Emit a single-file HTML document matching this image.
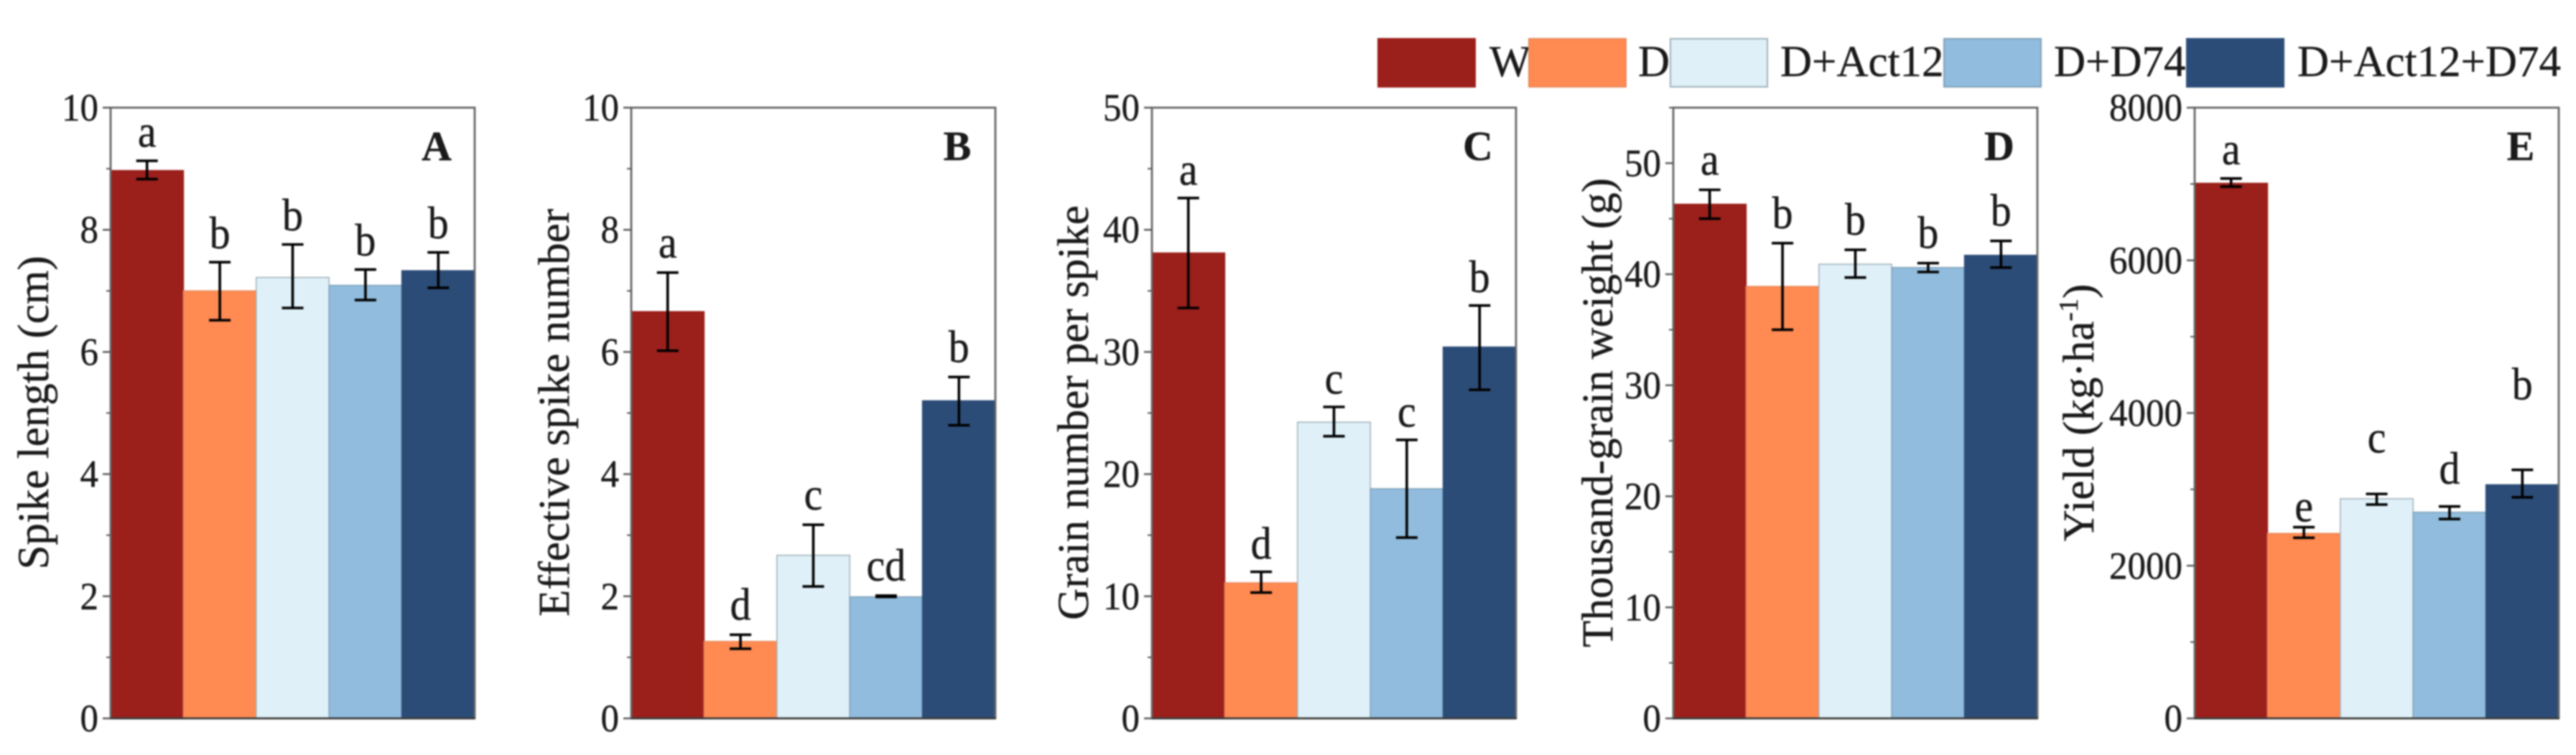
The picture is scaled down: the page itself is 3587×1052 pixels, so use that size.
<!DOCTYPE html>
<html lang="en">
<head>
<meta charset="utf-8">
<title>Wheat yield components by treatment</title>
<style>
  html, body { margin: 0; padding: 0; background: #fff; }
  body { width: 3587px; height: 1052px; overflow: hidden; }
  svg { display: block; filter: blur(1px); }
  text { font-family: "Liberation Serif", "Times New Roman", serif; fill: #1a1a1a; stroke: #1a1a1a; stroke-width: 0.4px; }
</style>
</head>
<body>
<svg id="figure" xmlns="http://www.w3.org/2000/svg" width="3587" height="1052" viewBox="0 0 3587 1052">
  <rect x="0" y="0" width="3587" height="1052" fill="#ffffff"/>
  <g id="panels"></g>
  <g id="legend"></g>
</svg>
<script>
// ---- Data ----
const categories = ["W", "D", "D+Act12", "D+D74", "D+Act12+D74"];

const spikeLengthValues = [8.97, 7.0, 7.22, 7.09, 7.33];
const spikeLengthHigh = [9.13, 7.47, 7.76, 7.35, 7.63];
const spikeLengthLow = [8.83, 6.52, 6.72, 6.85, 7.05];
const spikeLengthLetters = ["a", "b", "b", "b", "b"];
const spikeLengthTicks = [0, 2, 4, 6, 8, 10];
const spikeLengthMinor = [1, 3, 5, 7, 9];

const effectiveSpikeValues = [6.66, 1.26, 2.67, 1.99, 5.2];
const effectiveSpikeHigh = [7.3, 1.37, 3.17, 2.01, 5.59];
const effectiveSpikeLow = [6.02, 1.14, 2.16, 1.99, 4.8];
const effectiveSpikeLetters = ["a", "d", "c", "cd", "b"];
const effectiveSpikeTicks = [0, 2, 4, 6, 8, 10];
const effectiveSpikeMinor = [1, 3, 5, 7, 9];

const grainNumberValues = [38.1, 11.1, 24.25, 18.8, 30.4];
const grainNumberHigh = [42.6, 12.0, 25.5, 22.8, 33.8];
const grainNumberLow = [33.6, 10.3, 23.1, 14.8, 26.9];
const grainNumberLetters = ["a", "d", "c", "c", "b"];
const grainNumberTicks = [0, 10, 20, 30, 40, 50];
const grainNumberMinor = [5, 15, 25, 35, 45];

const grainWeightValues = [46.3, 38.9, 40.9, 40.6, 41.7];
const grainWeightHigh = [47.6, 42.8, 42.2, 41.0, 43.0];
const grainWeightLow = [45.0, 35.0, 39.7, 40.2, 40.6];
const grainWeightLetters = ["a", "b", "b", "b", "b"];
const grainWeightTicks = [0, 10, 20, 30, 40, 50];
const grainWeightMinor = [5, 15, 25, 35, 45, 55];

const yieldValues = [7009, 2423, 2877, 2700, 3060];
const yieldHigh = [7072, 2505, 2940, 2776, 3256];
const yieldLow = [6965, 2366, 2801, 2612, 2896];
const yieldLetters = ["a", "e", "c", "d", "b"];
const yieldLetterLift = [0, -107, 360, 114, 738];
const yieldTicks = [0, 2000, 4000, 6000, 8000];
const yieldMinor = [1000, 3000, 5000, 7000];

// ---- Layout and drawing ----
const NS = "http://www.w3.org/2000/svg";
const PLOT_TOP = 150;
const PLOT_BOTTOM = 1001;
const PLOT_WIDTH = 507;
const fills = ["#9b1f1b", "#ff8a52", "#dff0f8", "#91bcdd", "#2c4c78"];
const edges = ["#9b1f1b", "#e88a5c", "#9fb0b8", "#7f9fb8", "#2c4c78"];

const panels = [
  { id: "spike-length", tag: "A", left: 154, max: 10, titleX: 67, values: spikeLengthValues, high: spikeLengthHigh, low: spikeLengthLow, letters: spikeLengthLetters, ticks: spikeLengthTicks, minor: spikeLengthMinor, title: "Spike length (cm)", gap: 19.5 },
  { id: "effective-spike", tag: "B", left: 879, max: 10, titleX: 792, values: effectiveSpikeValues, high: effectiveSpikeHigh, low: effectiveSpikeLow, letters: effectiveSpikeLetters, ticks: effectiveSpikeTicks, minor: effectiveSpikeMinor, title: "Effective spike number", gap: 21 },
  { id: "grain-number", tag: "C", left: 1604, max: 50, titleX: 1515, values: grainNumberValues, high: grainNumberHigh, low: grainNumberLow, letters: grainNumberLetters, ticks: grainNumberTicks, minor: grainNumberMinor, title: "Grain number per spike", gap: 18.5 },
  { id: "grain-weight", tag: "D", left: 2330, max: 55, titleX: 2245, values: grainWeightValues, high: grainWeightHigh, low: grainWeightLow, letters: grainWeightLetters, ticks: grainWeightTicks, minor: grainWeightMinor, title: "Thousand-grain weight (g)", gap: 21 },
  { id: "yield", tag: "E", left: 3056, max: 8000, titleX: 2915, values: yieldValues, high: yieldHigh, low: yieldLow, letters: yieldLetters, lift: yieldLetterLift, ticks: yieldTicks, minor: yieldMinor, title: "Yield (kg·ha", gap: 19.5 }
];

function make(tag, parent, props) {
  const el = document.createElementNS(NS, tag);
  for (const k in props) el.setAttribute(k, props[k]);
  parent.appendChild(el);
  return el;
}

function drawPanel(p) {
  const root = document.getElementById("panels");
  const g = make("g", root, {});
  
  

  const yScale = v => PLOT_BOTTOM - (v / p.max) * (PLOT_BOTTOM - PLOT_TOP);
  const barW = PLOT_WIDTH / categories.length;
  const xCenter = i => p.left + barW * (i + 0.5);

  // bars
  p.values.forEach((v, i) => {
    const bar = make("rect", g, {
      x: p.left + barW * i, y: yScale(v), width: barW, height: PLOT_BOTTOM - yScale(v),
      fill: fills[i], stroke: edges[i], "stroke-width": 1.5
    });
    
    
  });

  // frame
  const frame = make("path", g, {
    d: "M" + p.left + " " + PLOT_BOTTOM + "V" + PLOT_TOP + "H" + (p.left + PLOT_WIDTH) + "V" + PLOT_BOTTOM,
    fill: "none", stroke: "#666666", "stroke-width": 2.8
  });
  
  
  const base = make("line", g, {
    x1: p.left - 1, x2: p.left + PLOT_WIDTH + 1, y1: PLOT_BOTTOM, y2: PLOT_BOTTOM,
    stroke: "#3a3a3a", "stroke-width": 2.8
  });
  
  

  // error bars
  p.values.forEach((v, i) => {
    const cx = xCenter(i);
    const err = make("path", g, {
      d: "M" + (cx - 15) + " " + yScale(p.high[i]) + "H" + (cx + 15) +
         "M" + cx + " " + yScale(p.high[i]) + "V" + yScale(p.low[i]) +
         "M" + (cx - 15) + " " + yScale(p.low[i]) + "H" + (cx + 15),
      fill: "none", stroke: "#000000", "stroke-width": 3.6
    });
    
    

    const lift = p.lift ? p.lift[i] : 0;
    const letterY = yScale(p.high[i] + lift) - p.gap;
    const letter = make("text", g, {
      "text-anchor": "middle", "font-size": 58,
      transform: "translate(" + cx + " " + letterY + ") scale(1 1.1)"
    });
    letter.textContent = p.letters[i];
    
    
  });

  // ticks
  p.ticks.forEach(t => {
    const tick = make("line", g, {
      x1: p.left - 11, x2: p.left, y1: yScale(t), y2: yScale(t), stroke: "#555555", "stroke-width": 2.4
    });
    
    
    const label = make("text", g, {
      "text-anchor": "end", "font-size": 51,
      transform: "translate(" + (p.left - 17) + " " + (yScale(t) + 18) + ") scale(1 1.05)"
    });
    label.textContent = t;
    
    
  });
  p.minor.forEach(t => {
    const tick = make("line", g, {
      x1: p.left - 6, x2: p.left, y1: yScale(t), y2: yScale(t), stroke: "#555555", "stroke-width": 2
    });
    
    
  });

  // axis title
  const title = make("text", g, {
    x: 0, y: 0, "text-anchor": "middle", "font-size": 61,
    transform: "translate(" + p.titleX + " 575) rotate(-90)"
  });
  title.textContent = p.title;
  if (p.tag === "E") {
    const sup = make("tspan", title, { "font-size": 38, dy: -22 });
    sup.textContent = "-1";
    const close = make("tspan", title, { dy: 22 });
    close.textContent = ")";
  }
  
  

  // panel tag
  const tagText = make("text", g, {
    x: p.left + PLOT_WIDTH - 53, y: 223, "text-anchor": "middle", "font-size": 58, "font-weight": "bold"
  });
  tagText.textContent = p.tag;
  
  
}

panels.forEach(drawPanel);

// legend
const legendSwatchX = [1919, 2129, 2326, 2707, 3045];
const legendTextX = [2074, 2281, 2479, 2860, 3199];
const legendRoot = document.getElementById("legend");
categories.forEach((c, i) => {
  const swatch = make("rect", legendRoot, {
    x: legendSwatchX[i], y: 54, width: 135, height: 67, fill: fills[i], stroke: edges[i], "stroke-width": 2
  });
  
  
  const text = make("text", legendRoot, { x: legendTextX[i], y: 106, "font-size": 61 });
  text.textContent = c;
  
  
});
</script>
</body>
</html>
